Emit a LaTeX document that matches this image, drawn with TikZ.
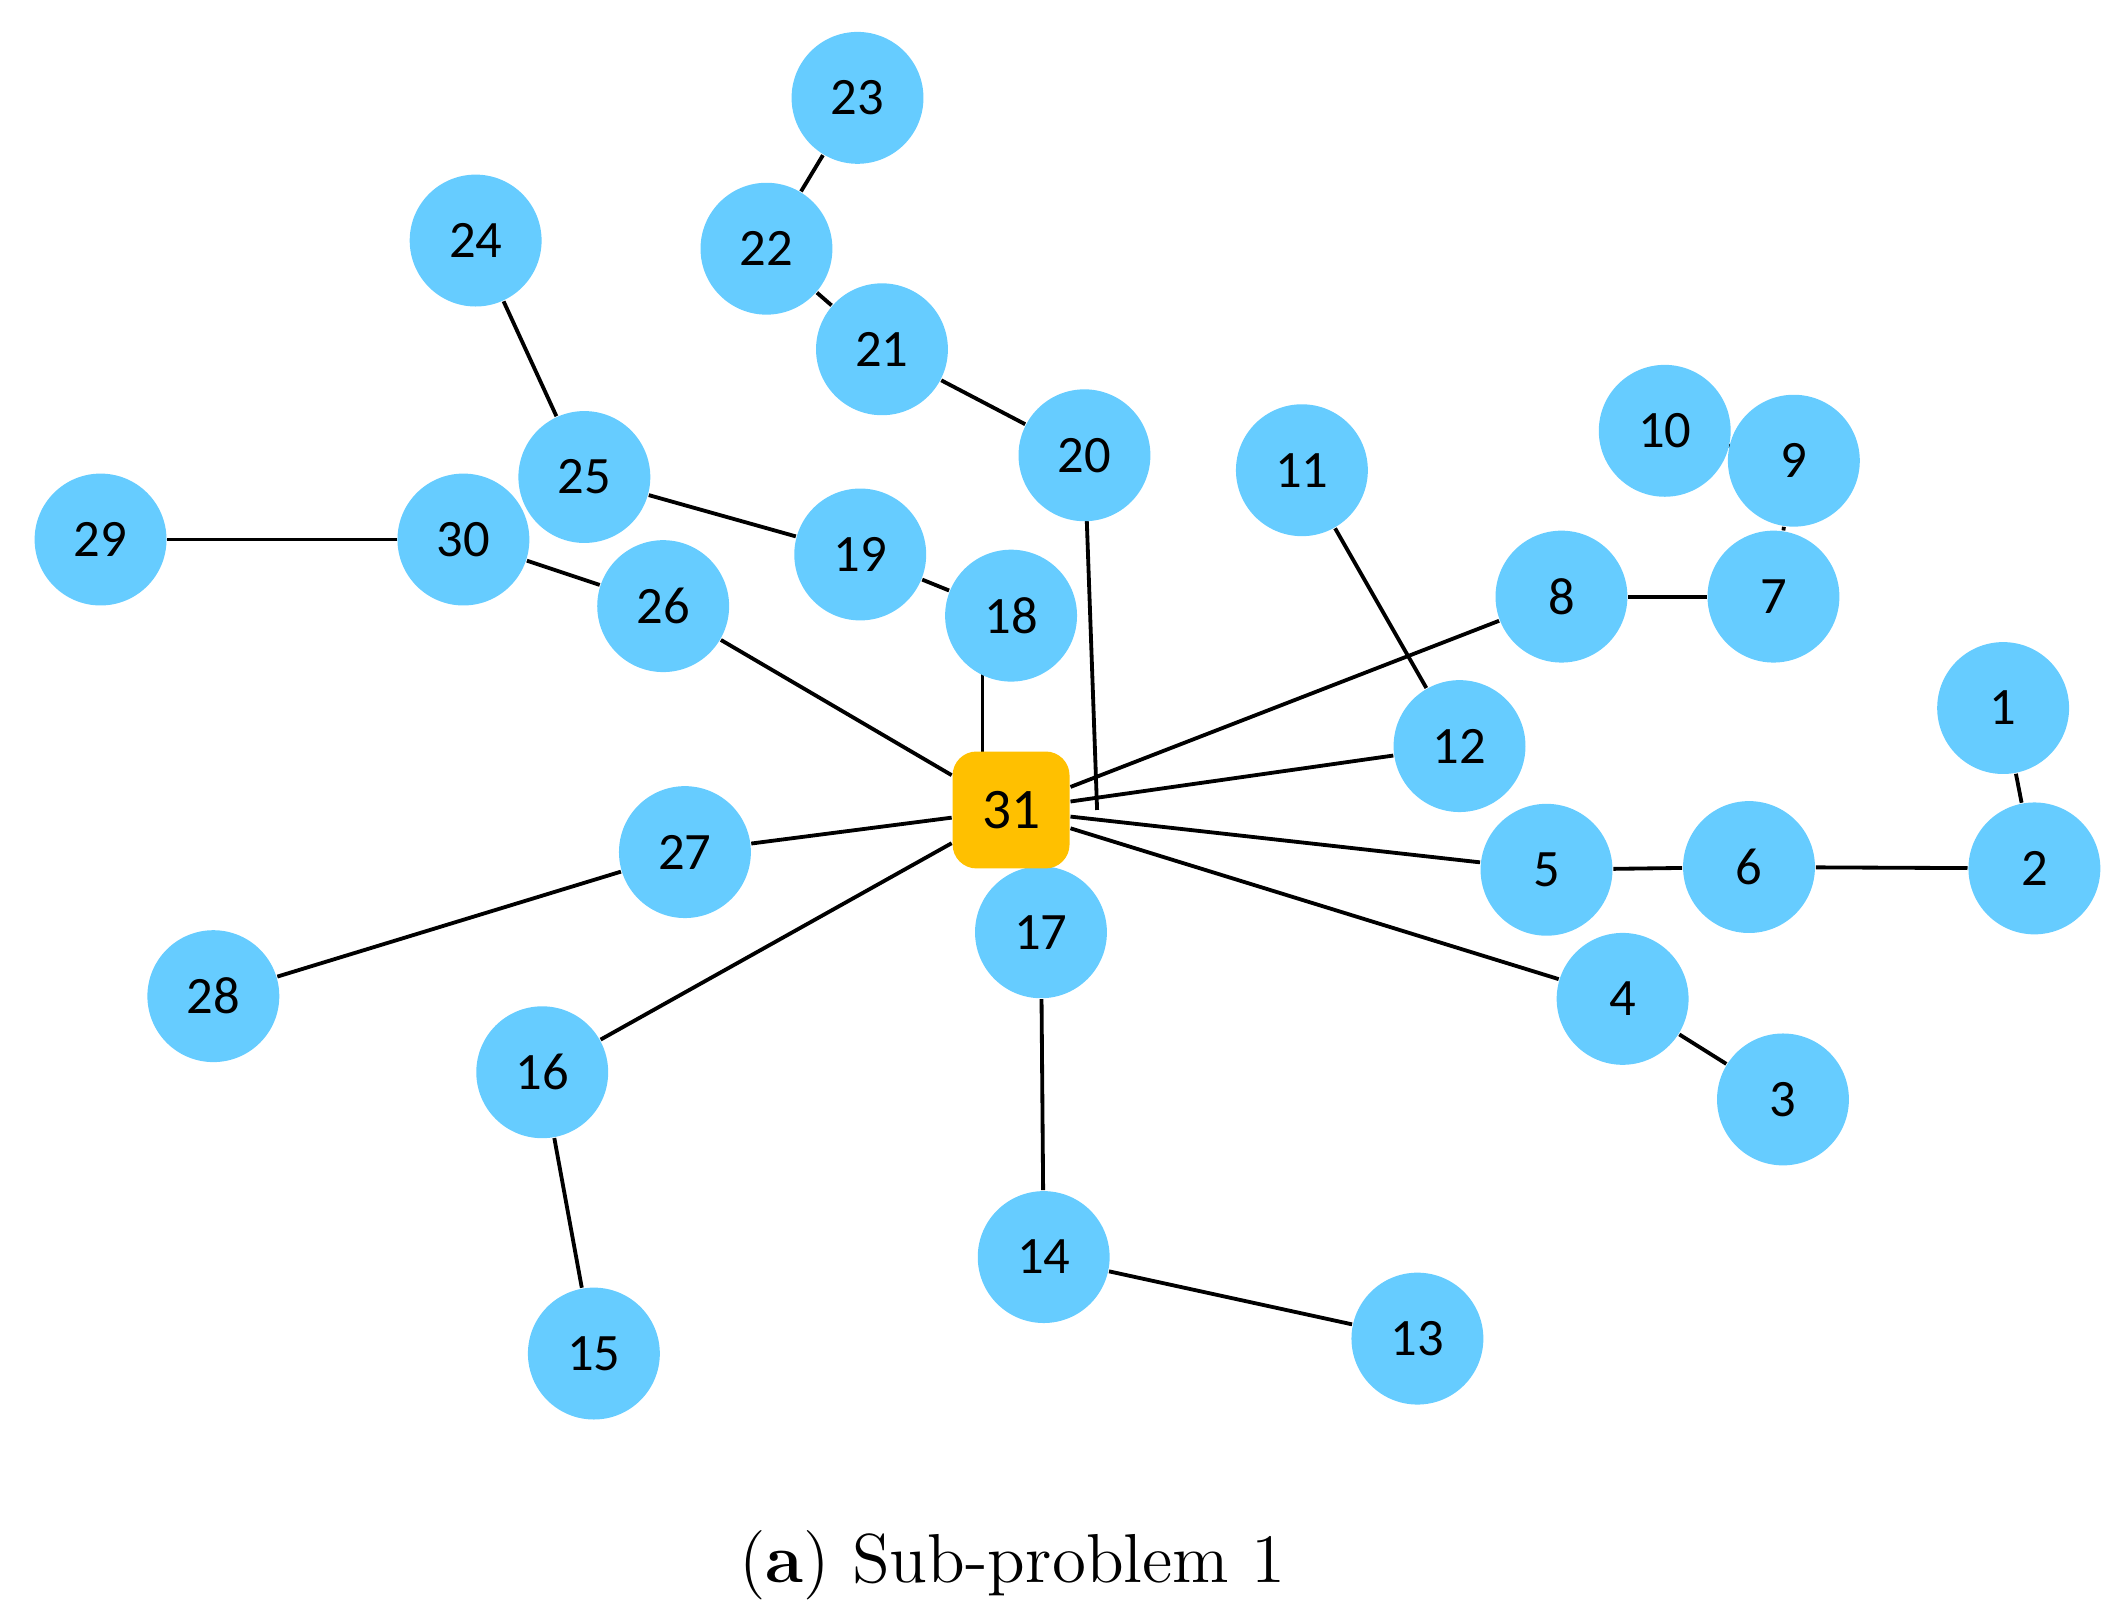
\documentclass[tikz,border=0pt]{standalone}
\usepackage{fontspec}
\newfontfamily\carlitofont{Carlito}
\usetikzlibrary{backgrounds}
\definecolor{nb}{HTML}{66CCFF}
\definecolor{hub}{HTML}{FFC000}
\begin{document}
\begin{tikzpicture}[x=0.01cm,y=-0.01cm,
 n/.style={circle,fill=nb,minimum size=0.97cm,inner sep=0pt,font=\carlitofont\fontsize{11}{13}\selectfont},
 e/.style={line width=0.8pt,black}]
\useasboundingbox (0,0) rectangle (1560,1193);
\foreach \i/\x/\y in {1/1474/521,2/1497/639,3/1312/809,4/1194/735,5/1138/640,6/1287/638,7/1305/439,8/1149/439,9/1320/339,10/1225/317,11/958/346,12/1074/549,13/1043/985,14/768/925,15/437/996,16/399/789,17/766/686,18/744/453,19/633/408,20/798/335,21/649/257,22/564/183,23/631/72,24/350/177,25/430/351,26/488/446,27/504/627,28/157/733,29/74/397,30/341/397}
  \node[n] (n\i) at (\x,\y) {\i};
\node[fill=hub,rounded corners=5pt,minimum size=0.86cm,inner sep=0pt,font=\carlitofont\fontsize{12}{14}\selectfont] (n31) at (744,596) {31};
\begin{pgfonlayer}{background}
\foreach \a/\b in {1/2,2/6,6/5,5/31,4/31,4/3,12/31,12/11,8/31,8/7,7/9,9/10,20/21,21/22,22/23,18/19,19/25,25/24,26/31,26/30,30/29,27/31,27/28,16/31,16/15,17/14,14/13}
  \draw[e] (n\a) -- (n\b);
\draw[e] ([xshift=-6]n18.center) -- ([xshift=-6]n31.center);
\draw[e] (n20.center) -- ([xshift=18]n31.center);
\end{pgfonlayer}
\node[font=\fontsize{14.5}{17}\selectfont] (cap) at (745,1152) {(\textbf{a}) Sub-problem 1};
\end{tikzpicture}
\end{document}
